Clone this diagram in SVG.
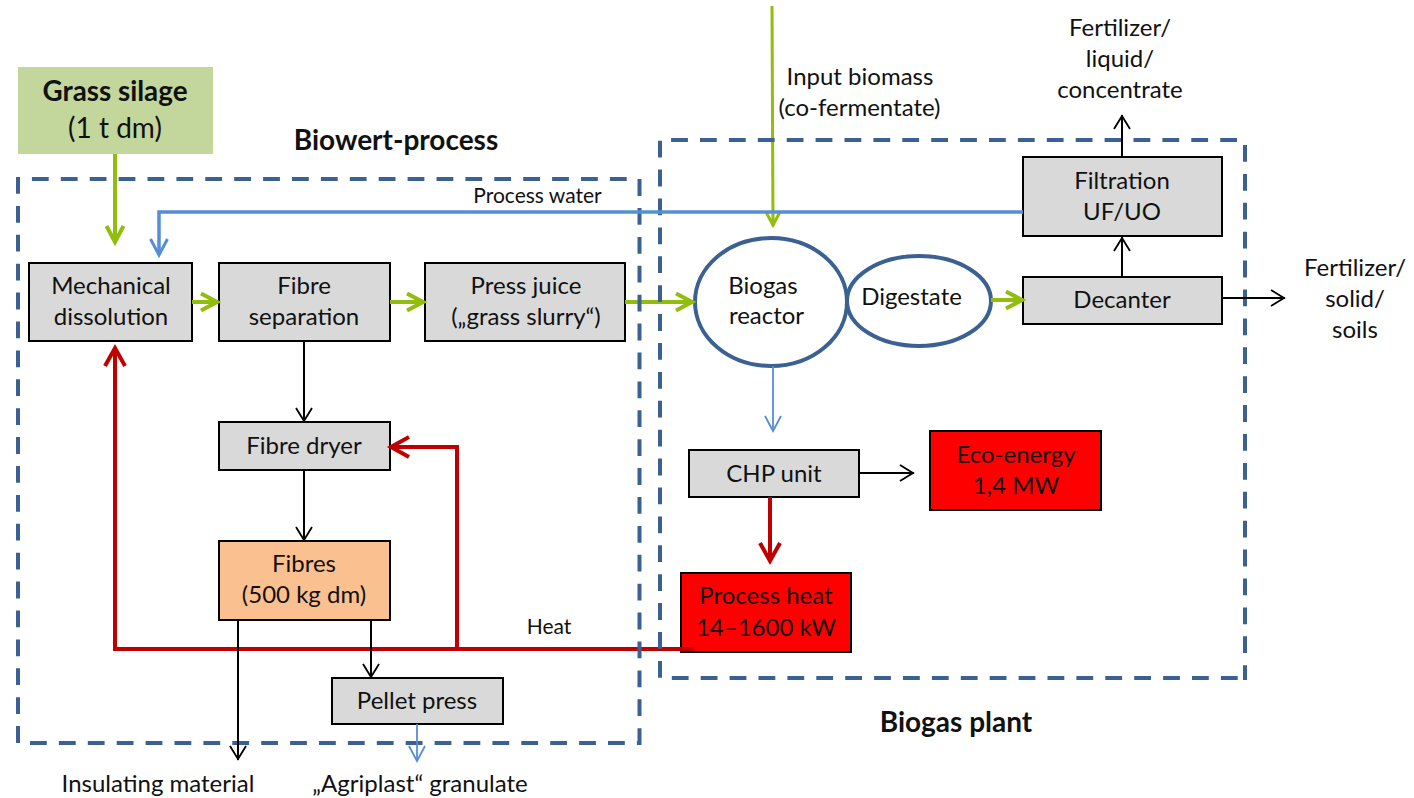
<svg xmlns="http://www.w3.org/2000/svg" width="1414" height="798" viewBox="0 0 1414 798">
<defs>
<marker id="ag" markerUnits="userSpaceOnUse" markerWidth="24" markerHeight="24" refX="21" refY="12" orient="auto"><path d="M4 3.500 L20 12 L4 20.500" fill="none" stroke="#92bc0e" stroke-width="4"/></marker>
<marker id="agt" markerUnits="userSpaceOnUse" markerWidth="24" markerHeight="24" refX="18" refY="12" orient="auto"><path d="M4 5 L17 12 L4 19" fill="none" stroke="#92bc0e" stroke-width="3"/></marker>
<marker id="ab" markerUnits="userSpaceOnUse" markerWidth="24" markerHeight="24" refX="19" refY="10" orient="auto"><path d="M3 1.500 L19 10 L3 18.500" fill="none" stroke="#558ed5" stroke-width="3"/></marker>
<marker id="abt" markerUnits="userSpaceOnUse" markerWidth="24" markerHeight="24" refX="17" refY="10" orient="auto"><path d="M2 2 L17 10 L2 18" fill="none" stroke="#558ed5" stroke-width="1.800"/></marker>
<marker id="ar" markerUnits="userSpaceOnUse" markerWidth="26" markerHeight="26" refX="21" refY="12" orient="auto"><path d="M3 2 L21 12 L3 22" fill="none" stroke="#c00000" stroke-width="4"/></marker>
<marker id="ak" markerUnits="userSpaceOnUse" markerWidth="24" markerHeight="24" refX="17" refY="10" orient="auto"><path d="M3 2 L16 10 L3 18" fill="none" stroke="#000" stroke-width="1.800"/></marker>
</defs>
<style>
text{font-family:"Lato","Carlito","Liberation Sans",sans-serif;font-size:24px;fill:#111;text-anchor:middle}
.b{font-weight:700;font-size:28px}
.m{font-size:28px}
.h{font-weight:700;font-size:27.800px}
.s{font-size:21px}
.n{fill:#d9d9d9;stroke:#000;stroke-width:2}
.region{fill:none;stroke:#3b6092;stroke-width:4;stroke-dasharray:16.800 12.100}
.c{fill:none}
.g{stroke:#92bc0e;stroke-width:4;marker-end:url(#ag)}
.gt{stroke:#92bc0e;stroke-width:3;marker-end:url(#agt)}
.bl{stroke:#558ed5;stroke-width:3.500;marker-end:url(#ab)}
.bt{stroke:#558ed5;stroke-width:1.800;marker-end:url(#abt)}
.r{stroke:#c00000;stroke-width:4}
.ra{marker-end:url(#ar)}
.k{stroke:#000;stroke-width:2;marker-end:url(#ak)}
.e{fill:#fff;stroke:#3b6092;stroke-width:4}
</style>
<g id="grass-silage"><rect x="18" y="67" width="195" height="87" fill="#c3d69b"/><text class="h" x="115" y="101">Grass silage</text><text class="m" x="115" y="138">(1 t dm)</text></g>
<g id="mechanical"><rect class="n" x="29" y="263" width="163" height="78"/><text x="111" y="294">Mechanical</text><text x="111" y="325">dissolution</text></g>
<g id="fibre-separation"><rect class="n" x="219" y="263" width="171" height="78"/><text x="304" y="294">Fibre</text><text x="304" y="325">separation</text></g>
<g id="press-juice"><rect class="n" x="425" y="263" width="200" height="78"/><text x="526" y="294">Press juice</text><text x="526" y="325">(„grass slurry“)</text></g>
<g id="fibre-dryer"><rect class="n" x="219" y="422" width="171" height="48"/><text x="304" y="454">Fibre dryer</text></g>
<g id="fibres"><rect x="219" y="541" width="171" height="79" fill="#fac090" stroke="#000" stroke-width="2"/><text x="304" y="572">Fibres</text><text x="304" y="603">(500 kg dm)</text></g>
<g id="pellet-press"><rect class="n" x="332" y="678" width="171" height="46"/><text x="417" y="709">Pellet press</text></g>
<g id="biogas-reactor"><ellipse class="e" cx="771" cy="302" rx="76" ry="64"/><text x="763" y="294">Biogas</text><text x="766.500" y="324">reactor</text></g>
<g id="digestate"><ellipse class="e" cx="919" cy="301" rx="72" ry="45"/><text x="911.500" y="305">Digestate</text></g>
<g id="decanter"><rect class="n" x="1023" y="277" width="199" height="47"/><text x="1122" y="308">Decanter</text></g>
<g id="filtration"><rect class="n" x="1023" y="157" width="199" height="79"/><text x="1122" y="189">Filtration</text><text x="1122" y="220">UF/UO</text></g>
<g id="chp-unit"><rect class="n" x="689" y="450" width="170" height="47"/><text x="774" y="482">CHP unit</text></g>
<g id="eco-energy"><rect x="930" y="431" width="171" height="79" fill="#f00" stroke="#000" stroke-width="2"/><text x="1016" y="463">Eco-energy</text><text x="1016" y="494">1,4 MW</text></g>
<g id="process-heat"><rect x="681" y="573" width="170" height="79" fill="#f00" stroke="#000" stroke-width="2"/><text x="766" y="604">Process heat</text><text x="766" y="636">14–1600 kW</text></g>
<g id="connectors-heat-feed" class="c">
<path class="g" d="M115 154V243"/>
<path class="g" d="M192 302H218"/>
<path class="g" d="M390 302H424"/>
<path class="g" d="M625 302H693"/>
<path class="gt" d="M772 6L773 226"/>
<path class="g" d="M991 300H1023"/>
<path class="r ra" d="M770 497V561"/>
<path class="r ra" d="M694 649H115V348"/>
<path class="r ra" d="M457 649V447H391"/>
</g>
<g id="region-biowert"><path class="region" d="M18 177V743M30 743H639.500M639.500 745V179M626.700 179H25"/><text class="b" x="396" y="150">Biowert-process</text></g>
<g id="region-biogas"><path class="region" d="M660 140.700V678H1245M1237 140H660"/><path class="region" stroke-dashoffset="2" d="M1245 680V140"/><text class="b" x="956" y="732">Biogas plant</text></g>
<g id="connectors" class="c">
<path class="bl" d="M1023 212H159V255"/>
<path class="bt" d="M773 366V431"/>
<path class="bt" d="M417 724V761"/>
<path class="k" d="M304 341V422"/>
<path class="k" d="M304 470V541"/>
<path class="k" d="M371 620V678"/>
<path class="k" d="M238 620V760"/>
<path class="k" d="M1122 277V237"/>
<path class="k" d="M1122 157V115"/>
<path class="k" d="M1222 298H1285"/>
<path class="k" d="M859 473H914"/>
</g>
<g id="labels">
<text class="s" x="537.500" y="203">Process water</text>
<text class="s" x="549" y="634">Heat</text>
<text x="860" y="85">Input biomass</text>
<text x="859.500" y="116">(co-fermentate)</text>
<text x="1120" y="36">Fertilizer/</text>
<text x="1120" y="67">liquid/</text>
<text x="1120" y="98">concentrate</text>
<text x="1355" y="276">Fertilizer/</text>
<text x="1355" y="307">solid/</text>
<text x="1355" y="338">soils</text>
<text x="158" y="792">Insulating material</text>
<text x="420" y="792">„Agriplast“ granulate</text>
</g>
</svg>
